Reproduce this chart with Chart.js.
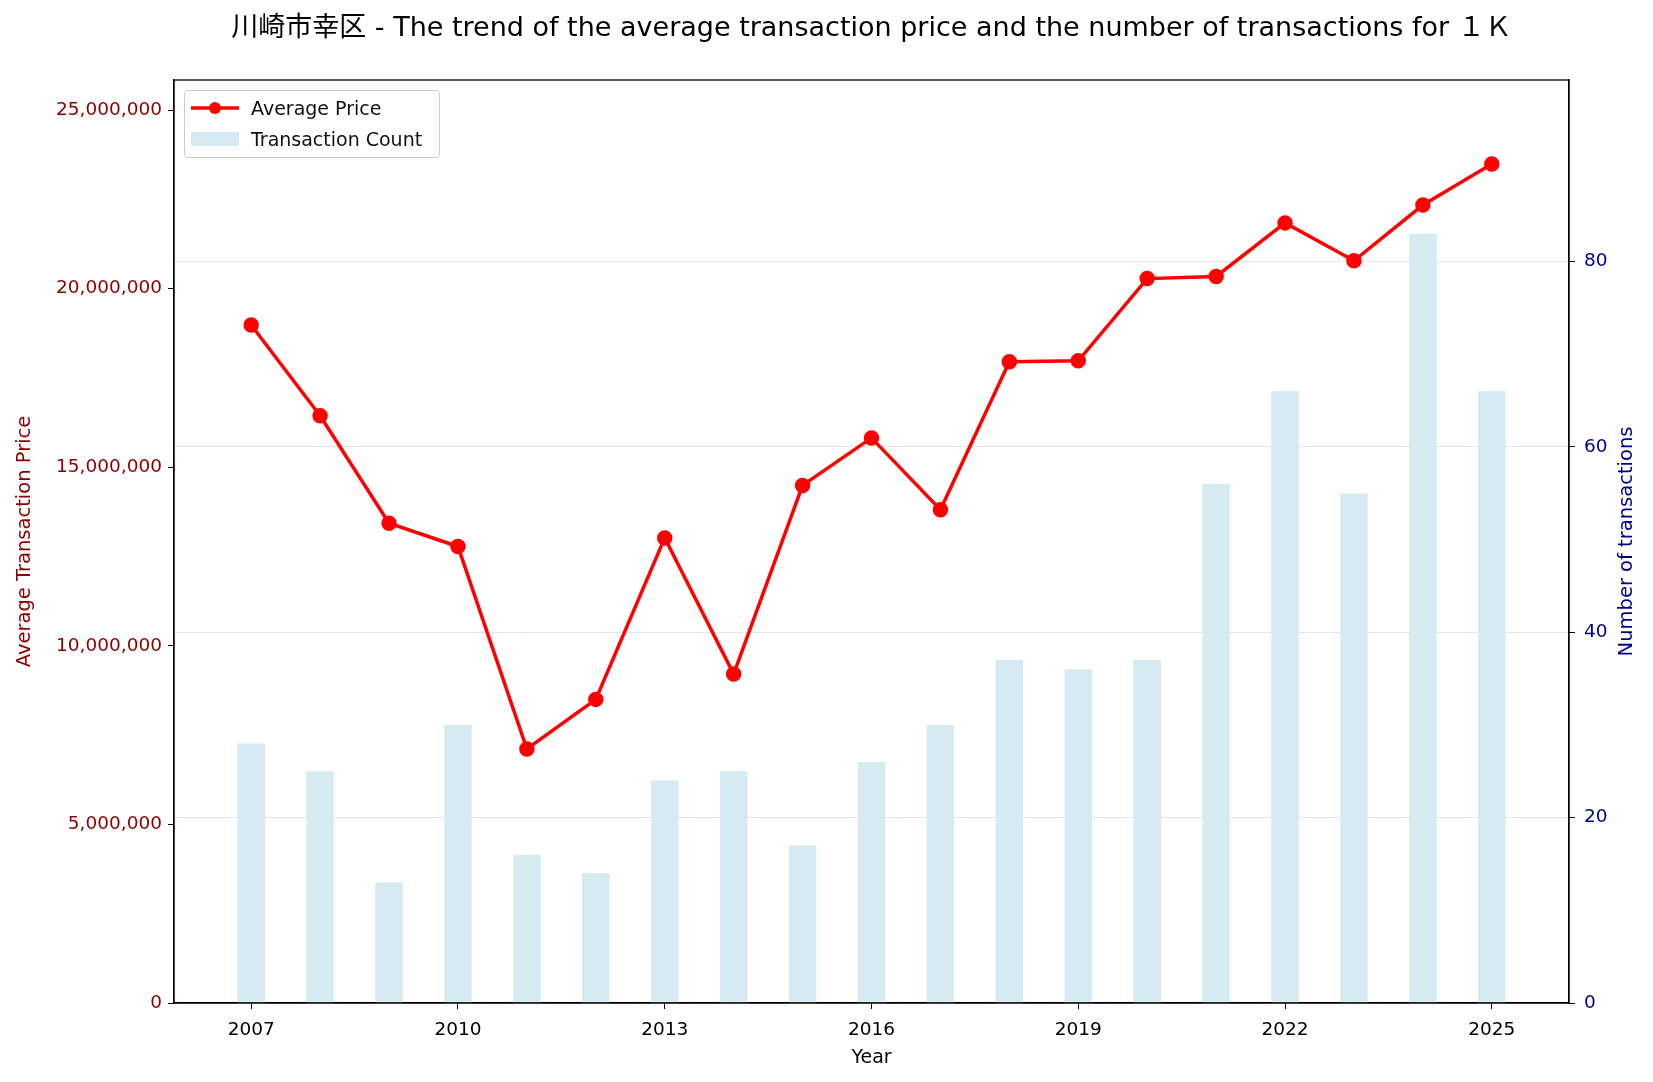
<!DOCTYPE html>
<html>
<head>
<meta charset="utf-8">
<script src="https://cdn.jsdelivr.net/npm/chart.js@4.4.1/dist/chart.umd.min.js"></script>
<style>
  html, body { margin: 0; padding: 0; background: #fff; }
  #wrap { position: relative; width: 1653px; height: 1082px; }
  #legend {
    position: absolute; left: 184px; top: 90px; width: 256px; height: 68px;
    border: 1px solid #cccccc; border-radius: 4px; background: rgba(255,255,255,0.8);
    font-family: "DejaVu Sans", "Noto Sans CJK JP", sans-serif; font-size: 19px; color: #111;
    box-sizing: border-box;
  }
  .row { position: absolute; left: 0; height: 28px; line-height: 28px; }
  .row span { position: absolute; left: 66px; white-space: nowrap; }
</style>
</head>
<body>
<div id="wrap">
  <canvas id="chart" width="1653" height="1082"></canvas>
  <div id="legend">
    <div class="row" style="top:3px">
      <svg width="60" height="28" style="position:absolute;left:6px;top:0">
        <line x1="0" y1="14" x2="48" y2="14" stroke="red" stroke-width="3.5"/>
        <circle cx="24" cy="14" r="6" fill="red"/>
      </svg>
      <span>Average Price</span>
    </div>
    <div class="row" style="top:34px">
      <svg width="60" height="28" style="position:absolute;left:6px;top:0">
        <rect x="0" y="7" width="48" height="14" fill="#d5ebf1"/>
      </svg>
      <span>Transaction Count</span>
    </div>
  </div>
</div>
<script>
const years = [2007, 2008, 2009, 2010, 2011, 2012, 2013, 2014, 2015, 2016,
               2017, 2018, 2019, 2020, 2021, 2022, 2023, 2024, 2025];
const avgPrice = [18980000, 16440000, 13430000, 12780000, 7110000, 8500000, 13020000,
                  9210000, 14490000, 15820000, 13810000, 17950000, 17980000, 20280000,
                  20340000, 21840000, 20780000, 22340000, 23490000];
const txCount = [28, 25, 13, 30, 16, 14, 24, 25, 17, 26, 30, 37, 36, 37, 56, 66, 55, 83, 66];
const yearTicks = [2007, 2010, 2013, 2016, 2019, 2022, 2025];
const priceTicks = [0, 5000000, 10000000, 15000000, 20000000, 25000000];
const countTicks = [0, 20, 40, 60, 80];
const titleText = '川崎市幸区 - The trend of the average transaction price and the number of transactions for １Ｋ';
const rightTitle = 'Number of transactions';

const FONT = '"DejaVu Sans", "Noto Sans CJK JP", sans-serif';

const frame = {
  id: 'frame',
  afterDraw(chart) {
    const c = chart.ctx, a = chart.chartArea;
    c.save();
    c.strokeStyle = '#000';
    c.lineWidth = 1.3;
    c.strokeRect(a.left, a.top, a.right - a.left, a.bottom - a.top);
    c.fillStyle = '#000';
    c.font = '27px ' + FONT;
    c.textAlign = 'center';
    c.textBaseline = 'middle';
    c.fillText(titleText, (a.left + a.right) / 2, 29);
    // right axis title, reading bottom to top
    c.translate(1627, (a.top + a.bottom) / 2);
    c.rotate(-Math.PI / 2);
    c.fillStyle = '#00008b';
    c.font = '19.5px ' + FONT;
    c.fillText(rightTitle, 0, 0);
    c.restore();
  }
};

new Chart(document.getElementById('chart'), {
  type: 'bar',
  data: {
    datasets: [
      {
        type: 'line',
        label: 'Average Price',
        data: years.map((y, i) => ({x: y, y: avgPrice[i]})),
        borderColor: 'red',
        backgroundColor: 'red',
        borderWidth: 3.5,
        pointRadius: 6,
        pointHoverRadius: 6,
        yAxisID: 'y',
        order: 0
      },
      {
        type: 'bar',
        label: 'Transaction Count',
        data: years.map((y, i) => ({x: y, y: txCount[i]})),
        backgroundColor: '#d5ebf1',
        categoryPercentage: 1,
        barPercentage: 0.4,
        yAxisID: 'y1',
        order: 1
      }
    ]
  },
  options: {
    responsive: false,
    animation: false,
    layout: { padding: { top: 80, left: 0, right: 0, bottom: 0 } },
    plugins: { legend: { display: false }, title: { display: false }, tooltip: { enabled: false } },
    scales: {
      x: {
        type: 'linear',
        min: 2005.88,
        max: 2026.12,
        offset: false,
        afterFit: s => { s.height = 79; },
        afterBuildTicks: s => { s.ticks = yearTicks.map(v => ({value: v})); },
        grid: { offset: false, drawOnChartArea: false, tickColor: '#000', tickLength: 6 },
        border: { color: '#000', width: 1.3 },
        ticks: { color: '#000', font: { family: FONT, size: 18.5 }, padding: 10, callback: v => String(v), maxRotation: 0, autoSkip: false },
        title: { display: true, text: 'Year', color: '#000', font: { family: FONT, size: 19 }, padding: { top: 0, bottom: 13 } }
      },
      y: {
        position: 'left',
        min: 0,
        max: 25840000,
        afterFit: s => { s.width = 174; },
        afterBuildTicks: s => { s.ticks = priceTicks.map(v => ({value: v})); },
        grid: { drawOnChartArea: false, tickColor: '#000', tickLength: 6 },
        border: { color: '#000', width: 1.3 },
        ticks: {
          color: '#8b0000', padding: 6, autoSkip: false,
          font: { family: FONT, size: 18.5 },
          callback: v => v.toLocaleString('en-US')
        },
        title: { display: true, text: 'Average Transaction Price', color: '#8b0000', font: { family: FONT, size: 19.5 }, padding: { top: 13, bottom: 0 } }
      },
      y1: {
        position: 'right',
        min: 0,
        max: 99.6,
        afterFit: s => { s.width = 84; },
        afterBuildTicks: s => { s.ticks = countTicks.map(v => ({value: v})); },
        grid: { color: '#e6e6e6', lineWidth: 1, tickColor: '#000', tickLength: 6 },
        border: { color: '#000', width: 1.3 },
        ticks: { color: '#00008b', padding: 9, autoSkip: false, font: { family: FONT, size: 18.5 } },
        title: { display: false }
      }
    }
  },
  plugins: [frame]
});
</script>
</body>
</html>
